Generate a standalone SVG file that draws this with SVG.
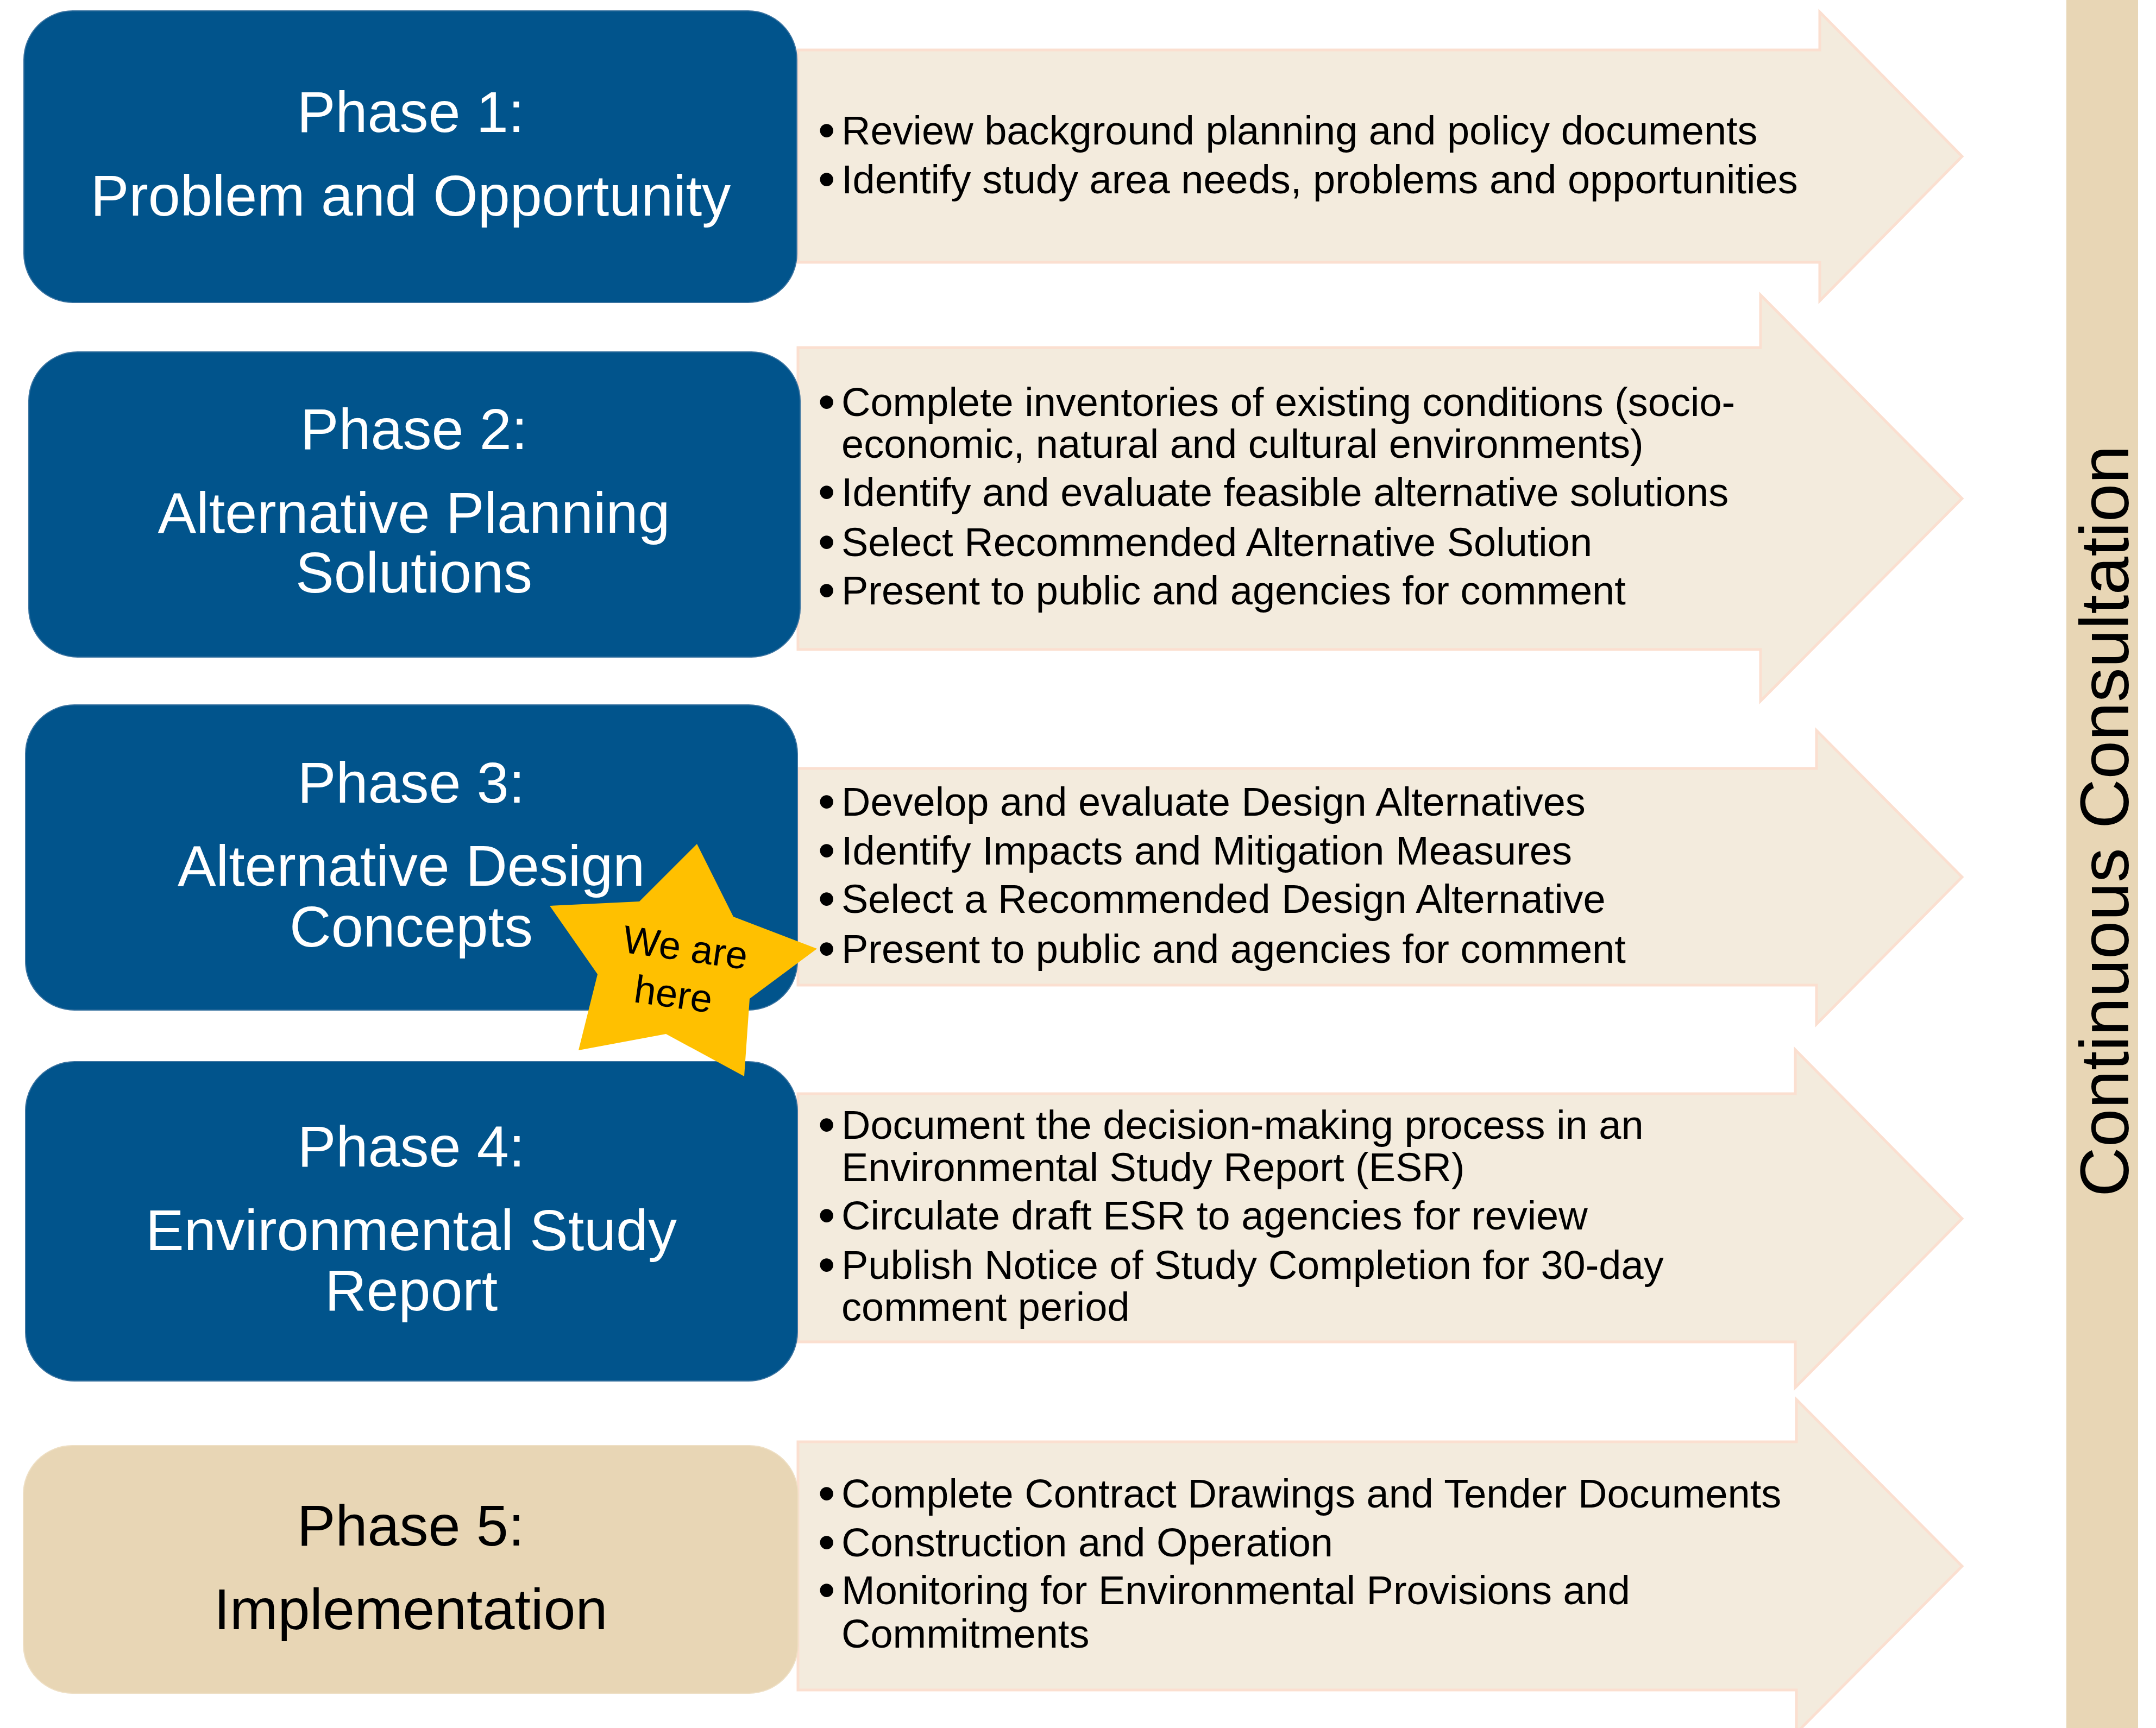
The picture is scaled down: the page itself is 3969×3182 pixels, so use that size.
<svg xmlns="http://www.w3.org/2000/svg" width="3969" height="3182" viewBox="0 0 3969 3182">
  <style>
    .box { fill: #01548c; stroke: #3a73a0; stroke-width: 2; }
    .box-light { fill: #e8d6b5; stroke: #eedfc4; stroke-width: 2; }
    .arrow { fill: #f3ebdd; stroke: #fbdfd0; stroke-width: 5; stroke-linejoin: miter; }
    .title { font-family: "Liberation Sans", Arial, sans-serif; font-size: 106px; fill: #ffffff; text-anchor: middle; }
    .title.dark { fill: #000000; }
    .item { font-family: "Liberation Sans", Arial, sans-serif; font-size: 74px; fill: #000000; }
    .dot { font-size: 90px; }
    .star { fill: #ffc000; }
    .star-text { font-family: "Liberation Sans", Arial, sans-serif; font-size: 72px; fill: #000000; text-anchor: middle; }
    .band { fill: #e8d6b5; }
    .band-text { font-family: "Liberation Sans", Arial, sans-serif; font-size: 127px; fill: #000000; text-anchor: middle; }
  </style>

  <!-- consultation band along the right edge -->
  <g id="consultation">
    <rect class="band" x="3804" y="0" width="132" height="3182"/>
    <text class="band-text" transform="translate(3918,1512) rotate(-90)">Continuous Consultation</text>
  </g>

  <g id="connectors"></g>

  <g id="phase1">
    <polygon class="arrow" points="1469,92 3350,92 3350,22 3612,288 3350,554 3350,483 1469,483"/>
    <rect class="box" x="44" y="20" width="1423" height="537" rx="90" ry="90"/>
    <text class="title" x="756" y="243">Phase 1:</text>
    <text class="title" x="756" y="397">Problem and Opportunity</text>
    <g class="item">
      <text x="1506" y="266"><tspan class="dot" dy="5">•</tspan><tspan x="1549" dy="-5">Review background planning and policy documents</tspan></text>
      <text x="1506" y="356"><tspan class="dot" dy="5">•</tspan><tspan x="1549" dy="-5">Identify study area needs, problems and opportunities</tspan></text>
    </g>
  </g>

  <g id="phase2">
    <polygon class="arrow" points="1469,640 3241,640 3241,543 3612,918 3241,1291 3241,1196 1469,1196"/>
    <rect class="box" x="53" y="648" width="1420" height="562" rx="90" ry="90"/>
    <text class="title" x="762" y="827">Phase 2:</text>
    <text class="title" x="762" y="981">Alternative Planning</text>
    <text class="title" x="762" y="1091">Solutions</text>
    <g class="item">
      <text x="1506" y="766"><tspan class="dot" dy="5">•</tspan><tspan x="1549" dy="-5">Complete inventories of existing conditions (socio-</tspan></text>
      <text x="1549" y="843">economic, natural and cultural environments)</text>
      <text x="1506" y="932"><tspan class="dot" dy="5">•</tspan><tspan x="1549" dy="-5">Identify and evaluate feasible alternative solutions</tspan></text>
      <text x="1506" y="1024"><tspan class="dot" dy="5">•</tspan><tspan x="1549" dy="-5">Select Recommended Alternative Solution</tspan></text>
      <text x="1506" y="1113"><tspan class="dot" dy="5">•</tspan><tspan x="1549" dy="-5">Present to public and agencies for comment</tspan></text>
    </g>
  </g>

  <g id="phase3">
    <polygon class="arrow" points="1469,1415 3344,1415 3344,1345 3612,1615 3344,1886 3344,1814 1469,1814"/>
    <rect class="box" x="47" y="1298" width="1421" height="562" rx="90" ry="90"/>
    <text class="title" x="757" y="1478">Phase 3:</text>
    <text class="title" x="757" y="1631">Alternative Design</text>
    <text class="title" x="757" y="1743">Concepts</text>
    <g class="item">
      <text x="1506" y="1502"><tspan class="dot" dy="5">•</tspan><tspan x="1549" dy="-5">Develop and evaluate Design Alternatives</tspan></text>
      <text x="1506" y="1592"><tspan class="dot" dy="5">•</tspan><tspan x="1549" dy="-5">Identify Impacts and Mitigation Measures</tspan></text>
      <text x="1506" y="1681"><tspan class="dot" dy="5">•</tspan><tspan x="1549" dy="-5">Select a Recommended Design Alternative</tspan></text>
      <text x="1506" y="1773"><tspan class="dot" dy="5">•</tspan><tspan x="1549" dy="-5">Present to public and agencies for comment</tspan></text>
    </g>
  </g>

  <g id="phase4">
    <polygon class="arrow" points="1469,2014 3305,2014 3305,1933 3612,2244 3305,2555 3305,2471 1469,2471"/>
    <rect class="box" x="47" y="1955" width="1421" height="588" rx="90" ry="90"/>
    <text class="title" x="757" y="2148">Phase 4:</text>
    <text class="title" x="757" y="2302">Environmental Study</text>
    <text class="title" x="757" y="2413">Report</text>
    <g class="item">
      <text x="1506" y="2097"><tspan class="dot" dy="5">•</tspan><tspan x="1549" dy="-5">Document the decision-making process in an</tspan></text>
      <text x="1549" y="2175">Environmental Study Report (ESR)</text>
      <text x="1506" y="2264"><tspan class="dot" dy="5">•</tspan><tspan x="1549" dy="-5">Circulate draft ESR to agencies for review</tspan></text>
      <text x="1506" y="2355"><tspan class="dot" dy="5">•</tspan><tspan x="1549" dy="-5">Publish Notice of Study Completion for 30-day</tspan></text>
      <text x="1549" y="2432">comment period</text>
    </g>
  </g>

  <g id="phase5">
    <polygon class="arrow" points="1469,2655 3307,2655 3307,2577 3612,2884 3307,3191 3307,3112 1469,3112"/>
    <rect class="box-light" x="43" y="2662" width="1426" height="456" rx="90" ry="90"/>
    <text class="title dark" x="756" y="2846">Phase 5:</text>
    <text class="title dark" x="756" y="3000">Implementation</text>
    <g class="item">
      <text x="1506" y="2776"><tspan class="dot" dy="5">•</tspan><tspan x="1549" dy="-5">Complete Contract Drawings and Tender Documents</tspan></text>
      <text x="1506" y="2866"><tspan class="dot" dy="5">•</tspan><tspan x="1549" dy="-5">Construction and Operation</tspan></text>
      <text x="1506" y="2954"><tspan class="dot" dy="5">•</tspan><tspan x="1549" dy="-5">Monitoring for Environmental Provisions and</tspan></text>
      <text x="1549" y="3034">Commitments</text>
    </g>
  </g>

  <!-- current-stage marker -->
  <g id="we-are-here">
    <polygon class="star" points="1283,1554 1350,1688 1504,1747 1380,1839 1370,1982 1226,1904 1065,1934 1100,1794 1012,1668 1177,1660"/>
    <g transform="rotate(8,1247,1800)">
      <text class="star-text" x="1254" y="1768">We are</text>
      <text class="star-text" x="1244" y="1856">here</text>
    </g>
  </g>
</svg>
